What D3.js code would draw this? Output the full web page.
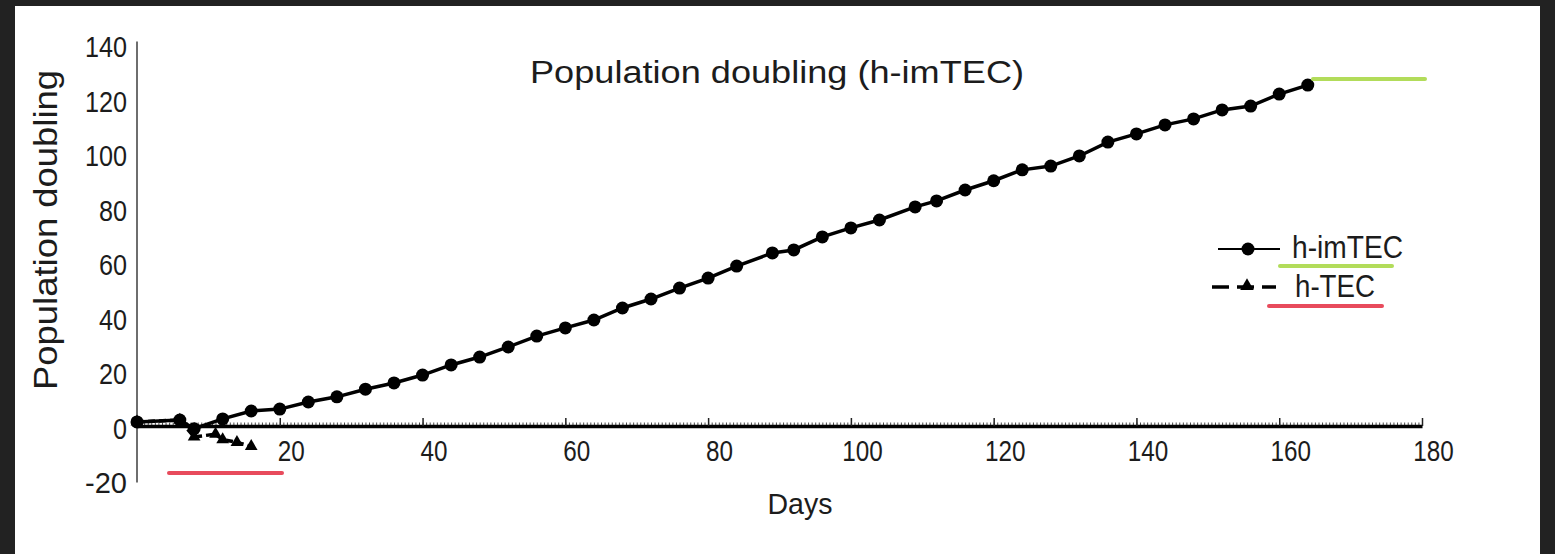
<!DOCTYPE html>
<html>
<head>
<meta charset="utf-8">
<script src="https://cdn.jsdelivr.net/npm/d3@7"></script>
<style>
  html, body { margin: 0; padding: 0; background: #222222; }
  svg { display: block; }
  text { font-family: "Liberation Sans", Arial, sans-serif; fill: #1c1c1c; }
</style>
</head>
<body>
<svg id="chart" width="1555" height="554"></svg>
<script>
// ---- data ----
const imtecDays = [0, 6, 8, 12, 16, 20, 24, 28, 32, 36, 40, 44, 48, 52, 56, 60, 64, 68, 72, 76, 80, 84, 89, 92, 96, 100, 104, 109, 112, 116, 120, 124, 128, 132, 136, 140, 144, 148, 152, 156, 160, 164];
const imtecValues = [1.5, 2.2, -1, 2.6, 5.5, 6.2, 8.8, 10.7, 13.5, 15.8, 18.7, 22.4, 25.3, 29, 33, 36, 38.9, 43.3, 46.6, 50.6, 54.3, 58.7, 63.5, 64.6, 69.4, 72.7, 75.6, 80.4, 82.6, 86.6, 90, 94, 95.4, 99.1, 104.2, 107.2, 110.5, 112.7, 116, 117.4, 121.8, 125.1];
const tecDays = [0, 6, 8, 11, 12, 14, 16];
const tecValues = [1.5, 2.2, -4, -3, -5, -6, -7.5];
const xTicks = [20, 40, 60, 80, 100, 120, 140, 160, 180];
const yTicks = [-20, 0, 20, 40, 60, 80, 100, 120, 140];
const seriesNames = ["h-imTEC", "h-TEC"];
const titleText = "Population doubling (h-imTEC)";
const xLabel = "Days";
const yLabel = "Population doubling";

// ---- layout ----
const svg = d3.select("#chart");
svg.append("rect").attr("x", 15).attr("y", 6).attr("width", 1525).attr("height", 548).attr("fill", "#ffffff");

const x = d3.scaleLinear().domain([0, 180]).range([137, 1422]);
const y = d3.scaleLinear().domain([-20, 140]).range([480.5, 44.5]);
const fmt = d => String(d);

// y axis
const yAxis = svg.append("g").attr("transform", `translate(${x(0)},0)`)
  .call(d3.axisLeft(y).tickValues(yTicks).tickFormat(fmt).tickSize(0).tickSizeOuter(0).tickPadding(10));
yAxis.select(".domain").attr("stroke", "#6e6e6e").attr("stroke-width", 2)
  .attr("d", `M0,${y(140) - 3}V${y(-20) + 2}`);
yAxis.selectAll(".tick text").attr("font-size", 29).attr("font-family", "Liberation Sans, Arial, sans-serif")
  .attr("fill", "#1c1c1c").attr("dy", "0.42em")
  .attr("textLength", d => fmt(d).length * 14).attr("lengthAdjust", "spacingAndGlyphs");

// x axis minor ticks
const xMinor = svg.append("g").attr("transform", `translate(0,${y(0)})`)
  .call(d3.axisBottom(x).tickValues(d3.range(0.5, 180, 0.5)).tickSize(-3.5).tickSizeOuter(0).tickFormat(""));
xMinor.select(".domain").remove();
xMinor.selectAll(".tick line").attr("stroke", "#4a4a4a").attr("stroke-width", 1);

// x axis major
const xAxis = svg.append("g").attr("transform", `translate(0,${y(0)})`)
  .call(d3.axisBottom(x).tickValues(xTicks).tickFormat(fmt).tickSize(-8).tickSizeOuter(0).tickPadding(14));
xAxis.select(".domain").attr("stroke", "#000").attr("stroke-width", 3.5);
xAxis.selectAll(".tick line").attr("stroke", "#222").attr("stroke-width", 1.5);
xAxis.selectAll(".tick text").attr("font-size", 29).attr("font-family", "Liberation Sans, Arial, sans-serif")
  .attr("fill", "#1c1c1c").attr("x", 11).attr("dy", "0.71em")
  .attr("textLength", d => fmt(d).length * 13.5).attr("lengthAdjust", "spacingAndGlyphs");

// lines
const imtec = imtecDays.map((d, i) => ({ d, v: imtecValues[i] }));
const tec = tecDays.map((d, i) => ({ d, v: tecValues[i] }));
const line = d3.line().x(p => x(p.d)).y(p => y(p.v));

svg.append("path").datum(tec).attr("d", line).attr("fill", "none")
  .attr("stroke", "#000").attr("stroke-width", 3.5).attr("stroke-dasharray", "7,4");
svg.selectAll(".tri").data(tec).join("path").attr("class", "tri")
  .attr("transform", p => `translate(${x(p.d)},${y(p.v)})`)
  .attr("d", d3.symbol(d3.symbolTriangle).size(70)).attr("fill", "#000");

svg.append("path").datum(imtec).attr("d", line).attr("fill", "none")
  .attr("stroke", "#000").attr("stroke-width", 3.5);
svg.selectAll(".dot").data(imtec).join("circle").attr("class", "dot")
  .attr("cx", p => x(p.d)).attr("cy", p => y(p.v)).attr("r", 6.5).attr("fill", "#000");

// legend
const lg = svg.append("g");
lg.append("line").attr("x1", 1218).attr("x2", 1280).attr("y1", 249).attr("y2", 249)
  .attr("stroke", "#000").attr("stroke-width", 2);
lg.append("circle").attr("cx", 1248).attr("cy", 249).attr("r", 6.5).attr("fill", "#000");
lg.append("text").attr("x", 1292).attr("y", 258).attr("font-size", 31)
  .attr("textLength", 111).attr("lengthAdjust", "spacingAndGlyphs").text(seriesNames[0]);

lg.append("line").attr("x1", 1212).attr("x2", 1276).attr("y1", 287).attr("y2", 287)
  .attr("stroke", "#000").attr("stroke-width", 3.5).attr("stroke-dasharray", "17,8");
lg.append("path").attr("transform", "translate(1247,286)")
  .attr("d", d3.symbol(d3.symbolTriangle).size(80)).attr("fill", "#000");
lg.append("text").attr("x", 1295).attr("y", 297).attr("font-size", 31)
  .attr("textLength", 80).attr("lengthAdjust", "spacingAndGlyphs").text(seriesNames[1]);

// titles
svg.append("text").attr("x", 777).attr("y", 83).attr("text-anchor", "middle")
  .attr("font-size", 31).attr("textLength", 494).attr("lengthAdjust", "spacingAndGlyphs").text(titleText);
svg.append("text").attr("x", 800).attr("y", 514).attr("text-anchor", "middle")
  .attr("font-size", 29).attr("textLength", 65).attr("lengthAdjust", "spacingAndGlyphs").text(xLabel);
svg.append("text").attr("transform", "translate(57,230) rotate(-90)").attr("text-anchor", "middle")
  .attr("font-size", 33).attr("textLength", 320).attr("lengthAdjust", "spacingAndGlyphs").text(yLabel);

// highlight annotations
const marks = [
  { x1: 1313, x2: 1425, y: 79, c: "#b2dc5a" },
  { x1: 1280, x2: 1392, y: 266, c: "#b2dc5a" },
  { x1: 1269, x2: 1382, y: 306, c: "#e84b5c" },
  { x1: 169, x2: 282, y: 473, c: "#e84b5c" }
];
svg.selectAll(".mark").data(marks).join("line").attr("class", "mark")
  .attr("x1", m => m.x1).attr("x2", m => m.x2).attr("y1", m => m.y).attr("y2", m => m.y)
  .attr("stroke", m => m.c).attr("stroke-width", 4).attr("stroke-linecap", "round");
</script>
</body>
</html>
